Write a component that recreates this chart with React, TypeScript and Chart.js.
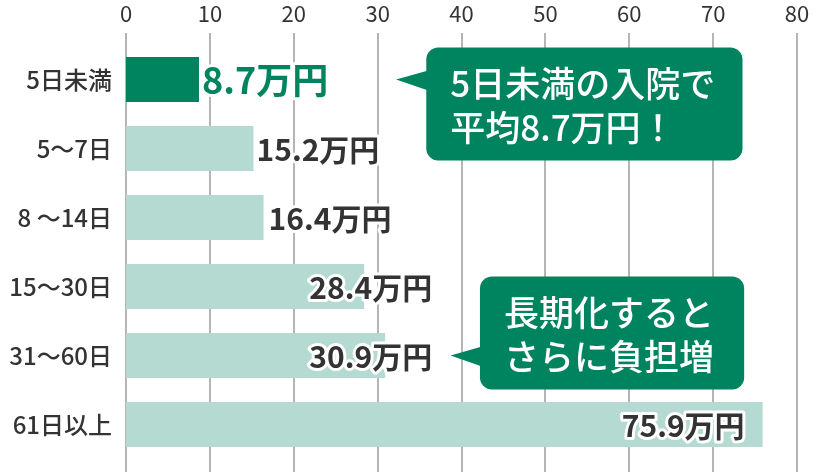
import { useEffect, useRef } from "react";
import Chart from "chart.js/auto";

const categories = ["5日未満", "5～7日", "8 ～14日", "15～30日", "31～60日", "61日以上"];
const costs = [8.7, 15.2, 16.4, 28.4, 30.9, 75.9];
const valueLabels = ["8.7万円", "15.2万円", "16.4万円", "28.4万円", "30.9万円", "75.9万円"];
const callout1 = ["5日未満の入院で", "平均8.7万円！"];
const callout2 = ["長期化すると", "さらに負担増"];

const GREEN = "#00835f";
const LIGHT = "#b5dad2";
const FONT = "'Noto Sans CJK JP', 'Noto Sans', sans-serif";

// label placement per bar: "left" = starts after bar end, "right" = right edge at bar end + dx
const labelPlace = [
  { align: "left", dx: 3 },
  { align: "left", dx: 3 },
  { align: "left", dx: 5 },
  { align: "right", dx: 68 },
  { align: "right", dx: 47 },
  { align: "right", dx: -18 },
];

const gridPlugin = {
  id: "fullGrid",
  beforeDatasetsDraw(chart: any) {
    const { ctx } = chart;
    const x = chart.scales.x;
    ctx.save();
    ctx.strokeStyle = "#b5b5b5";
    ctx.lineWidth = 2;
    x.ticks.forEach((t: any) => {
      const px = Math.round(x.getPixelForValue(t.value));
      ctx.beginPath();
      ctx.moveTo(px, 33);
      ctx.lineTo(px, chart.height);
      ctx.stroke();
    });
    ctx.restore();
  },
};

const drawCallout = (ctx: any, left: number, right: number, top: number, bottom: number, tipX: number, tipY: number, lines: string[]) => {
  const r = 12;
  ctx.fillStyle = GREEN;
  ctx.beginPath();
  ctx.roundRect(left, top, right - left, bottom - top, r);
  ctx.fill();
  ctx.beginPath();
  ctx.moveTo(left + 2, tipY - 9);
  ctx.lineTo(tipX, tipY);
  ctx.lineTo(left + 2, tipY + 11);
  ctx.closePath();
  ctx.fill();
  ctx.fillStyle = "#fff";
  ctx.font = `500 35px ${FONT}`;
  ctx.textAlign = "left";
  ctx.textBaseline = "middle";
  lines.forEach((s, i) => ctx.fillText(s, left + 24, top + 36 + i * 44));
};

const labelPlugin = {
  id: "labels",
  afterDatasetsDraw(chart: any) {
    const { ctx } = chart;
    const meta = chart.getDatasetMeta(0);
    ctx.save();
    ctx.lineJoin = "round";
    meta.data.forEach((bar: any, i: number) => {
      const p = labelPlace[i];
      const first = i === 0;
      ctx.font = first ? `bold 36px ${FONT}` : `bold 30px ${FONT}`;
      ctx.textAlign = p.align;
      ctx.textBaseline = "middle";
      const tx = bar.x + p.dx;
      const ty = bar.y + 1;
      ctx.strokeStyle = "#fff";
      ctx.lineWidth = 6;
      ctx.strokeText(valueLabels[i], tx, ty);
      ctx.fillStyle = first ? GREEN : "#333";
      ctx.fillText(valueLabels[i], tx, ty);
    });

    const x = chart.scales.x;
    const y = chart.scales.y;
    const y0 = y.getPixelForValue(0);
    drawCallout(ctx, x.getPixelForValue(35.8), x.getPixelForValue(73.5), y0 - 32, y0 + 81, x.getPixelForValue(32.2), y0, callout1);
    const y4 = y.getPixelForValue(4);
    drawCallout(ctx, x.getPixelForValue(42.2), x.getPixelForValue(73.7), y4 - 79, y4 + 34, x.getPixelForValue(38.7), y4, callout2);
    ctx.restore();
  },
};

const App = () => {
  const chartRef: any = useRef(null);
  useEffect(() => {
    document.body.style.margin = "0";
    const ctx = chartRef.current.getContext("2d");
    const theChart = new Chart(ctx, {
      type: "bar",
      data: {
        labels: categories,
        datasets: [
          {
            data: costs,
            backgroundColor: costs.map((_, i) => (i === 0 ? GREEN : LIGHT)),
            barPercentage: 0.65,
            categoryPercentage: 1,
          },
        ],
      },
      options: {
        indexAxis: "y",
        animation: false,
        responsive: true,
        maintainAspectRatio: false,
        layout: { padding: { left: 0, right: 19, top: 0, bottom: 13 } },
        plugins: { legend: { display: false }, tooltip: { enabled: false } },
        scales: {
          x: {
            position: "top",
            min: 0,
            max: 80,
            afterFit: (s: any) => {
              s.height = 45;
              s.paddingLeft = 0;
              s.paddingRight = 0;
            },
            grid: { display: false, drawTicks: false },
            border: { display: false },
            ticks: { stepSize: 10, padding: 18, color: "#333", font: { family: FONT, size: 22 } },
          },
          y: {
            afterFit: (s: any) => {
              s.width = 126;
              s.paddingTop = 0;
              s.paddingBottom = 0;
            },
            grid: { display: false, drawTicks: false },
            border: { display: false },
            ticks: { padding: 14, color: "#333", font: { family: FONT, size: 24, weight: "500" } },
          },
        },
      },
      plugins: [gridPlugin, labelPlugin],
    } as any);
    return () => { theChart.destroy() };
  }, []);

  return (
    <div style={{ width: 816, height: 472, position: "relative", background: "#fff" }}>
      <canvas ref={chartRef} />
    </div>
  );
};

export default App;
